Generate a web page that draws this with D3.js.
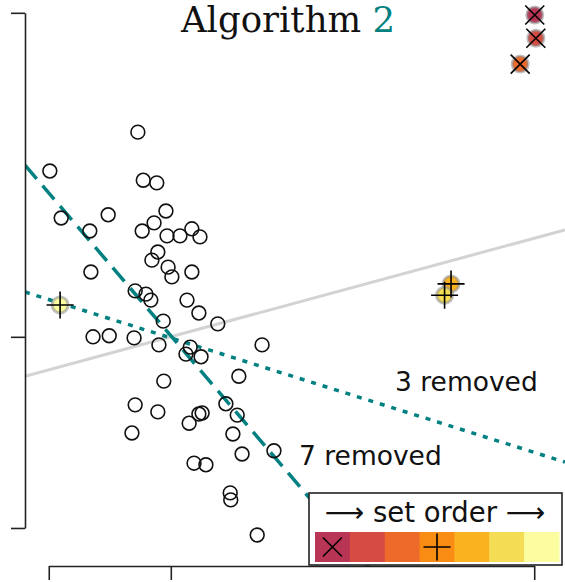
<!DOCTYPE html>
<html>
<head>
<meta charset="utf-8">
<script src="https://cdn.jsdelivr.net/npm/d3@7"></script>
<style>
  html, body { margin: 0; padding: 0; background: #fff; }
  svg { display: block; }
</style>
</head>
<body>
<svg id="chart" width="565" height="582"></svg>
<script>
// Inlier observations
const xVals = [2.09, 0.46, 2.19, 2.44, 0.67, 1.54, 1.20, 2.61, 2.39, 2.17,
               2.63, 2.87, 3.09, 3.24, 2.46, 2.35, 2.65, 3.09, 1.22, 2.72,
               2.04, 2.24, 2.33, 3.00, 3.22, 2.56, 3.57, 1.26, 1.56, 2.02,
               2.48, 3.06, 2.98, 3.26, 4.39, 2.57, 3.96, 2.04, 2.46, 3.28,
               3.22, 3.04, 1.98, 3.72, 3.93, 3.85, 4.02, 4.61, 3.13, 3.35,
               3.80, 3.81, 4.30];
const yVals = [7.96, 7.24, 7.07, 7.02, 6.37, 6.43, 6.13, 6.50, 6.28, 6.13,
               6.04, 6.04, 6.17, 6.02, 5.74, 5.59, 5.46, 5.37, 5.37, 5.28,
               5.02, 4.96, 4.85, 4.85, 4.61, 4.46, 4.41, 4.17, 4.19, 4.15,
               4.02, 3.98, 3.85, 3.80, 4.02, 3.35, 3.44, 2.91, 2.78, 2.76,
               2.74, 2.57, 2.39, 2.93, 2.72, 2.37, 2.00, 2.06, 1.83, 1.80,
               1.28, 1.15, 0.50];

// Contaminating observations, coloured by the set they belong to
const outX    = [9.44, 9.46, 9.17, 7.89, 7.77, 0.65];
const outY    = [10.13, 9.70, 9.22, 5.15, 4.94, 4.76];
const outSet  = [0, 1, 2, 4, 5, 6];
const outMark = ["x", "x", "x", "+", "+", "+"];

// Fitted lines: y = intercept + slope * x
const fitIntercept = [3.44, 5.00, 7.35];
const fitSlope     = [0.271, -0.315, -1.17];

// Axis ticks (min, median, max)
const xTicks = [0.44, 2.70, 9.43];
const yTicks = [0.63, 4.17, 10.17];

// Legend: seven sets in order, with markers on the first and fourth
const setPalette = ["#b83556", "#d64c42", "#ed6a2a", "#f98c12", "#fbb21f", "#f4dd55", "#fbfda0"];
const legendMarks = ["x", null, null, "+", null, null, null];

const removedLabels = ["3 removed", "7 removed"];

const svg = d3.select("#chart");

const x = d3.scaleLinear().domain([0, 10]).range([25, 565]);
const y = d3.scaleLinear().domain([0, 10]).range([562, 22]);

const ink = "#222";
const teal = "#008080";

// clip region for the fitted lines
svg.append("defs").append("clipPath").attr("id", "plotClip")
  .append("rect").attr("x", x(0)).attr("y", 0)
  .attr("width", x(10) - x(0)).attr("height", 566);

// Fitted lines
const lineStyles = [
  { stroke: "#d3d3d3", width: 3, dash: null },
  { stroke: teal, width: 3.5, dash: "5,7" },
  { stroke: teal, width: 3.5, dash: "18,9" }
];
const fits = fitIntercept.map((b, i) => ({ b, m: fitSlope[i], style: lineStyles[i] }));
const lineGen = d3.line().x(d => x(d[0])).y(d => y(d[1]));
svg.append("g").attr("clip-path", "url(#plotClip)")
  .selectAll("path").data(fits).join("path")
  .attr("d", f => lineGen([[0, f.b], [10, f.b + f.m * 10]]))
  .attr("fill", "none")
  .attr("stroke", f => f.style.stroke)
  .attr("stroke-width", f => f.style.width)
  .attr("stroke-dasharray", f => f.style.dash);

// Inlier circles
svg.append("g").selectAll("circle").data(xVals.map((v, i) => [v, yVals[i]])).join("circle")
  .attr("cx", d => x(d[0])).attr("cy", d => y(d[1])).attr("r", 6.9)
  .attr("fill", "none").attr("stroke", "#111").attr("stroke-width", 1.6);

// Marker helper
function drawMark(g, kind, cx, cy) {
  const p = d3.path();
  if (kind === "x") {
    const s = 9.5;
    p.moveTo(cx - s, cy - s); p.lineTo(cx + s, cy + s);
    p.moveTo(cx - s, cy + s); p.lineTo(cx + s, cy - s);
  } else if (kind === "+") {
    const s = 13.5;
    p.moveTo(cx - s, cy); p.lineTo(cx + s, cy);
    p.moveTo(cx, cy - s); p.lineTo(cx, cy + s);
  }
  g.append("path").attr("d", p.toString())
    .attr("fill", "none").attr("stroke", "#000").attr("stroke-width", 1.6);
}

// Outliers
const outG = svg.append("g");
const outData = outX.map((v, i) => ({ x: v, y: outY[i], set: outSet[i], mark: outMark[i] }));
outG.selectAll("circle").data(outData).join("circle")
  .attr("cx", d => x(d.x)).attr("cy", d => y(d.y)).attr("r", 8)
  .attr("fill", d => setPalette[d.set])
  .attr("stroke", "rgba(140,140,140,0.55)").attr("stroke-width", 3);
outData.forEach(d => drawMark(outG, d.mark, x(d.x), y(d.y)));

// Range-frame axes
const yAxisScale = y.copy().domain([yTicks[0], yTicks[2]]).range([y(yTicks[0]), y(yTicks[2])]);
const xAxisScale = x.copy().domain([xTicks[0], xTicks[2]]).range([x(xTicks[0]), x(xTicks[2])]);

const yAxis = svg.append("g").attr("transform", "translate(25,0)")
  .call(d3.axisLeft(yAxisScale).tickValues(yTicks).tickSize(14).tickSizeOuter(0).tickFormat(""));
const xAxis = svg.append("g").attr("transform", "translate(0,566)")
  .call(d3.axisBottom(xAxisScale).tickValues(xTicks).tickSize(14).tickSizeOuter(0).tickFormat(""));
[yAxis, xAxis].forEach(a => {
  a.selectAll("path, line").attr("stroke", ink).attr("stroke-width", 1.6);
});

// Title
const title = svg.append("text")
  .attr("x", 288).attr("y", 32).attr("text-anchor", "middle")
  .attr("font-family", "'DejaVu Serif', serif").attr("font-size", 35.5)
  .attr("fill", "#111");
title.append("tspan").text("Algorithm ");
title.append("tspan").attr("fill", teal).text("2");

// Annotations for the lines
const sansFont = "'DejaVu Sans', sans-serif";
svg.append("text").attr("x", 395).attr("y", 391)
  .attr("font-family", sansFont).attr("font-size", 26.5).attr("fill", "#111")
  .text(removedLabels[0]);
svg.append("text").attr("x", 299).attr("y", 465)
  .attr("font-family", sansFont).attr("font-size", 26.5).attr("fill", "#111")
  .text(removedLabels[1]);

// Legend
const leg = svg.append("g");
leg.append("rect").attr("x", 309).attr("y", 493).attr("width", 253).attr("height", 72)
  .attr("fill", "#fff").attr("stroke", ink).attr("stroke-width", 1.6);
leg.append("text").attr("x", 435).attr("y", 522).attr("text-anchor", "middle")
  .attr("font-family", sansFont).attr("font-size", 27.5).attr("fill", "#111")
  .text("\u27F6 set order \u27F6");
const cellScale = d3.scaleBand().domain(d3.range(setPalette.length)).range([315, 559]).padding(0);
leg.selectAll("rect.cell").data(setPalette).join("rect").attr("class", "cell")
  .attr("x", (c, i) => cellScale(i)).attr("y", 532)
  .attr("width", cellScale.bandwidth() + 0.5).attr("height", 30)
  .attr("fill", c => c);
legendMarks.forEach((m, i) => {
  if (m) drawMark(leg, m, cellScale(i) + cellScale.bandwidth() / 2, 547);
});
</script>
</body>
</html>
